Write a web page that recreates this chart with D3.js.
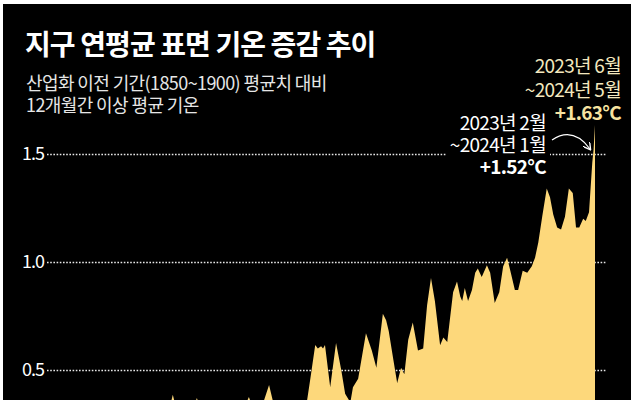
<!DOCTYPE html>
<html>
<head>
<meta charset="utf-8">
<script src="https://cdn.jsdelivr.net/npm/d3@7"></script>
<style>
  html, body { margin: 0; padding: 0; background: #fff; }
  svg { display: block; }
  text { font-family: "Noto Sans CJK KR", "Noto Sans", sans-serif; }
</style>
</head>
<body>
<svg id="chart" width="634" height="400"></svg>
<script>
'use strict'

// 12-month mean anomaly vs 1850~1900 (°C)
const years = [
  1940.0, 1942.2, 1944.0, 1946.0, 1948.3, 1950.6, 1952.9, 1954.8, 1956.0, 1957.5,
  1958.8, 1959.5, 1960.3, 1961.4, 1962.5, 1963.2, 1964.0, 1965.5, 1967.1, 1968.6,
  1970.1, 1971.2, 1972.1, 1973.2, 1974.3, 1975.1, 1976.3, 1977.8, 1979.1, 1980.0,
  1980.6, 1981.4, 1981.8, 1982.3, 1982.6, 1982.9, 1983.7, 1984.6, 1985.4, 1986.0,
  1986.8, 1987.2, 1988.0, 1989.2, 1990.1, 1990.8, 1991.8, 1992.3, 1992.7, 1993.4,
  1994.0, 1994.6, 1995.1, 1995.7, 1996.4, 1997.2, 1998.0, 1998.6, 1999.2, 1999.8,
  2000.6, 2001.1, 2001.7, 2002.6, 2003.2, 2003.7, 2004.0, 2004.4, 2004.9, 2005.5,
  2006.0, 2006.4, 2007.0, 2007.8, 2008.3, 2009.0, 2009.7, 2010.3, 2010.9, 2011.4,
  2012.1, 2012.6, 2013.3, 2014.0, 2014.7, 2015.2, 2015.7, 2016.3, 2017.0, 2017.5,
  2018.0, 2018.6, 2019.2, 2019.8, 2020.4, 2021.0, 2021.5, 2022.0, 2022.6, 2023.0,
  2023.5, 2024.0, 2024.2, 2024.42
]
const anomaly = [
  0.28, 0.33, 0.30, 0.25, 0.22, 0.26, 0.20, 0.27, 0.30, 0.22,
  0.30, 0.385, 0.29, 0.24, 0.31, 0.37, 0.30, 0.25, 0.30, 0.22,
  0.30, 0.375, 0.30, 0.33, 0.43, 0.33, 0.24, 0.21, 0.26, 0.33,
  0.45, 0.616, 0.60, 0.61, 0.60, 0.616, 0.42, 0.625, 0.50, 0.39,
  0.35, 0.42, 0.46, 0.67, 0.59, 0.51, 0.76, 0.73, 0.68, 0.55,
  0.44, 0.51, 0.48, 0.64, 0.72, 0.59, 0.60, 0.80, 0.926, 0.82,
  0.615, 0.65, 0.63, 0.86, 0.91, 0.84, 0.82, 0.88, 0.82, 0.87,
  0.95, 0.97, 0.93, 0.985, 0.95, 0.81, 0.86, 0.98, 1.02, 0.96,
  0.87, 0.87, 0.96, 0.95, 0.98, 1.02, 1.09, 1.21, 1.34, 1.30,
  1.22, 1.16, 1.15, 1.21, 1.34, 1.32, 1.16, 1.16, 1.20, 1.19,
  1.23, 1.46, 1.52, 1.634
]
const yTicks = [0.5, 1.0, 1.5]

const title = '지구 연평균 표면 기온 증감 추이'
const subtitle = ['산업화 이전 기간(1850~1900) 평균치 대비', '12개월간 이상 평균 기온']
const noteFeb = ['2023년 2월', '~2024년 1월', '+1.52°C']
const noteJun = ['2023년 6월', '~2024년 5월', '+1.63°C']

const data = years.map((yr, i) => ({year: yr, value: anomaly[i]}))

const svg = d3.select('#chart')

// black panel, light frame shows at the top, left and right edges
svg.append('rect')
  .attr('x', 3).attr('y', 4)
  .attr('width', 628).attr('height', 400)
  .attr('fill', '#000')

const x = d3.scaleLinear().domain([1940, 2024.42]).range([46, 595])
const y = d3.scaleLinear().domain([0, 1.5]).range([478, 154])

// dotted grid + labels
const axis = d3.axisLeft(y)
  .tickValues(yTicks)
  .tickFormat(d3.format('.1f'))
  .tickSizeInner(-(607 - 47))
  .tickSizeOuter(0)
  .tickPadding(3)

const gAxis = svg.append('g')
  .attr('transform', 'translate(47,0)')
  .call(axis)
gAxis.select('.domain').remove()
gAxis.selectAll('line')
  .attr('stroke', '#e8e8e8')
  .attr('stroke-width', 1.6)
  .attr('stroke-dasharray', '1.6,1.6')
gAxis.selectAll('text')
  .attr('fill', '#fff')
  .attr('font-size', 18)
  .attr('letter-spacing', -1)

// area
const area = d3.area()
  .x(d => x(d.year))
  .y0(y(0))
  .y1(d => y(d.value))

svg.append('path')
  .datum(data)
  .attr('fill', '#fdd87b')
  .attr('d', area)

// title
svg.append('text')
  .attr('x', 25).attr('y', 55)
  .attr('fill', '#fff')
  .attr('font-size', 28)
  .attr('font-weight', 700)
  .attr('letter-spacing', -0.9)
  .text(title)

svg.selectAll('text.sub')
  .data(subtitle)
  .enter().append('text')
  .attr('class', 'sub')
  .attr('x', 26)
  .attr('y', (d, i) => 90 + i * 22)
  .attr('fill', '#e6e6e6')
  .attr('font-size', 18)
  .attr('letter-spacing', -0.6)
  .text(d => d)

// gap in the 1.5 grid line behind the note
svg.append('rect')
  .attr('x', 447).attr('y', 146)
  .attr('width', 103).attr('height', 16)
  .attr('fill', '#000')

const drawNote = (lines, right, top, step, color, lastColor) => {
  svg.append('g').selectAll('text')
    .data(lines)
    .enter().append('text')
    .attr('x', right)
    .attr('y', (d, i) => top + i * step)
    .attr('text-anchor', 'end')
    .attr('fill', (d, i) => i === 2 ? lastColor : color)
    .attr('font-size', 19)
    .attr('font-weight', (d, i) => i === 2 ? 700 : 400)
    .attr('letter-spacing', -0.7)
    .text(d => d)
}

drawNote(noteJun, 621, 73, 23.5, '#f3e8bf', '#f7e3a0')
drawNote(noteFeb, 546, 130, 22, '#fff', '#fff')

// curved arrow toward the 1.52 point
const defs = svg.append('defs')
defs.append('marker')
  .attr('id', 'head')
  .attr('viewBox', '0 0 8 8')
  .attr('refX', 6).attr('refY', 4)
  .attr('markerWidth', 7).attr('markerHeight', 7)
  .attr('orient', 'auto')
  .append('path')
  .attr('d', 'M0,0 L7,4 L0,8')
  .attr('fill', 'none')
  .attr('stroke', '#fff')
  .attr('stroke-width', 1.3)

svg.append('path')
  .attr('d', 'M552,140 Q573,126 590,149')
  .attr('fill', 'none')
  .attr('stroke', '#fff')
  .attr('stroke-width', 1.2)
  .attr('marker-end', 'url(#head)')
</script>
</body>
</html>
